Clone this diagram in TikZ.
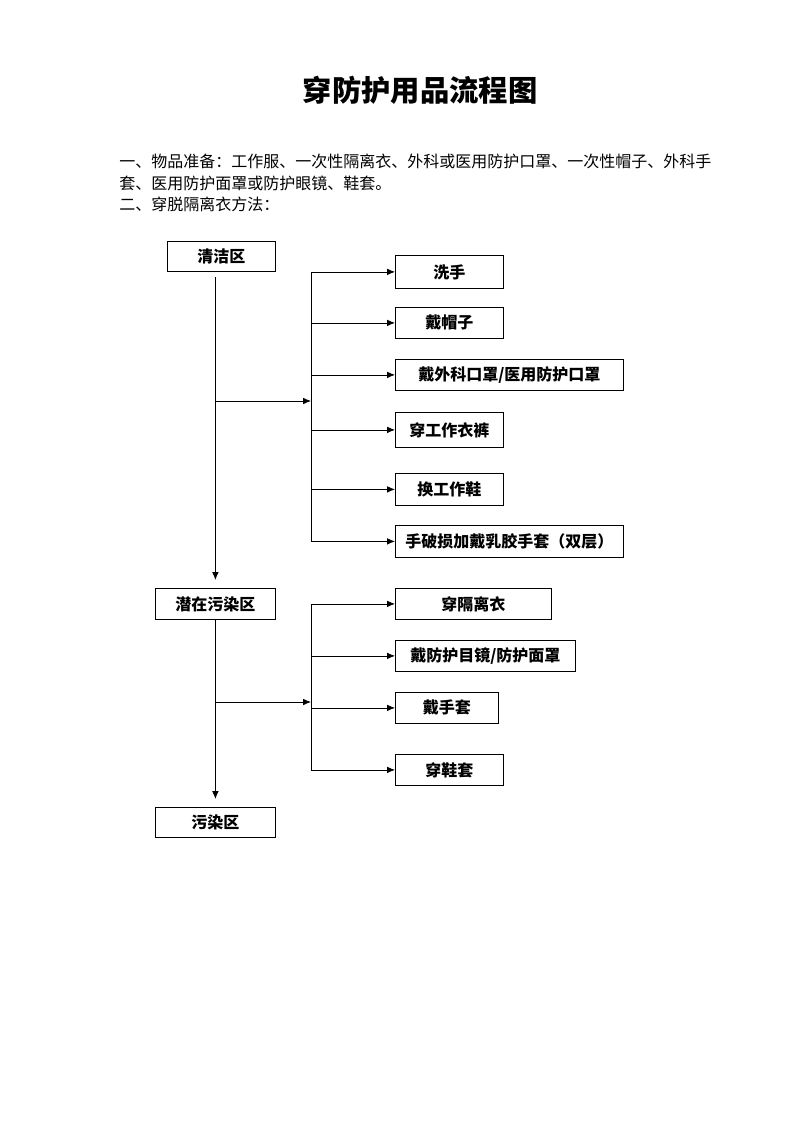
\documentclass[tikz,border=0pt]{standalone}
\usepackage{fontspec}
\setmainfont{Noto Sans CJK SC}
\usetikzlibrary{arrows.meta}
\begin{document}
\begin{tikzpicture}[
  x=0.75pt, y=-0.75pt,
  box/.style={draw, line width=0.6pt, inner sep=0pt, anchor=north west, minimum height=23.25pt, font=\bfseries\fontsize{12}{14}\selectfont},
  txt/.style={anchor=west, inner sep=0pt, font=\fontsize{12}{14}\selectfont},
  arr/.style={-{Latex[length=6pt,width=5pt]}, line width=0.6pt},
]
  \useasboundingbox (0,0) rectangle (793,1122);

  \node[font=\bfseries\fontsize{22}{26}\selectfont] (title) at (420,90) {穿防护用品流程图};
  \node[txt] (l1) at (119,161) {一、物品准备：工作服、一次性隔离衣、外科或医用防护口罩、一次性帽子、外科手};
  \node[txt] (l2) at (119,183) {套、医用防护面罩或防护眼镜、鞋套。};
  \node[txt] (l3) at (119,204) {二、穿脱隔离衣方法：};

  \node[box, minimum width=81pt, minimum height=22.5pt] (clean) at (167,241) {清洁区};
  \node[box, minimum width=81pt, minimum height=24.75pt] (wash) at (395,255) {洗手};
  \node[box, minimum width=81pt] (cap) at (395,307) {戴帽子};
  \node[box, minimum width=171pt] (mask) at (395,359) {戴外科口罩/医用防护口罩};
  \node[box, minimum width=81pt, minimum height=26.25pt] (suit) at (395,412) {穿工作衣裤};
  \node[box, minimum width=81pt, minimum height=24pt] (shoe) at (395,473) {换工作鞋};
  \node[box, minimum width=171pt, minimum height=24pt] (glove) at (395,525) {手破损加戴乳胶手套（双层）};

  \node[box, minimum width=90pt] (semi) at (155,588) {潜在污染区};
  \node[box, minimum width=117pt] (gown) at (395,588) {穿隔离衣};
  \node[box, minimum width=135pt] (goggle) at (395,640) {戴防护目镜/防护面罩};
  \node[box, minimum width=77.25pt] (glv) at (395,692) {戴手套};
  \node[box, minimum width=81pt] (cover) at (395,754) {穿鞋套};
  \node[box, minimum width=90pt, minimum height=22.5pt] (dirty) at (155,807) {污染区};

  \coordinate (bus1) at (311,401);
  \coordinate (bus2) at (311,702);

  \draw[arr, shorten >=6pt] ([yshift=-4pt]semi.north |- clean.south) -- (semi.north);
  \draw[arr] (semi.north |- bus1) -- (bus1);
  \draw[line width=0.6pt] (bus1 |- wash.west) -- (bus1 |- glove.west);
  \foreach \n in {wash,cap,mask,suit,shoe,glove}
    \draw[arr] (bus1 |- \n.west) -- (\n.west);

  \draw[arr, shorten >=6pt] (semi.south) -- (dirty.north);
  \draw[arr] (semi.south |- bus2) -- (bus2);
  \draw[line width=0.6pt] (bus2 |- gown.west) -- (bus2 |- cover.west);
  \foreach \n in {gown,goggle,glv,cover}
    \draw[arr] (bus2 |- \n.west) -- (\n.west);
\end{tikzpicture}
\end{document}
